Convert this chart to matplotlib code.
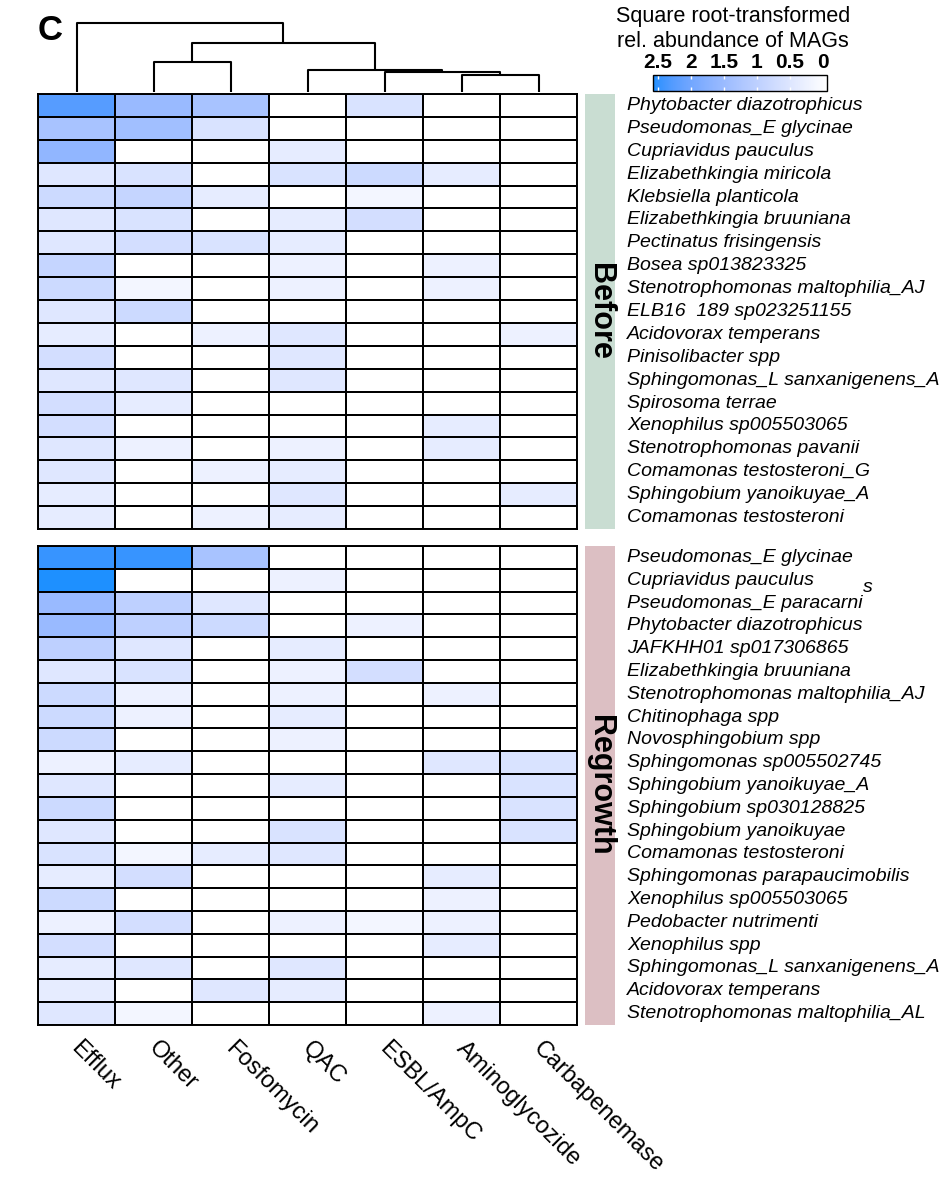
import numpy as np
import matplotlib
matplotlib.use("Agg")
import matplotlib.pyplot as plt
from matplotlib.colors import ListedColormap, Normalize
from matplotlib.cm import ScalarMappable

# ---- data (square root-transformed rel. abundance) ----
gene_classes = ["Efflux", "Other", "Fosfomycin", "QAC", "ESBL/AmpC",
                "Aminoglycozide", "Carbapenemase"]

before_taxa = [
    "Phytobacter diazotrophicus", "Pseudomonas_E glycinae", "Cupriavidus pauculus",
    "Elizabethkingia miricola", "Klebsiella planticola", "Elizabethkingia bruuniana",
    "Pectinatus frisingensis", "Bosea sp013823325", "Stenotrophomonas maltophilia_AJ",
    "ELB16  189 sp023251155", "Acidovorax temperans", "Pinisolibacter spp",
    "Sphingomonas_L sanxanigenens_A", "Spirosoma terrae", "Xenophilus sp005503065",
    "Stenotrophomonas pavanii", "Comamonas testosteroni_G", "Sphingobium yanoikuyae_A",
    "Comamonas testosteroni",
]
before_values = [
    [2.2, 1.5, 1.3, 0.0, 0.6, 0.0, 0.0],
    [1.3, 1.4, 0.6, 0.0, 0.0, 0.0, 0.0],
    [1.6, 0.0, 0.0, 0.4, 0.0, 0.0, 0.0],
    [0.5, 0.6, 0.0, 0.6, 0.8, 0.4, 0.0],
    [0.8, 0.9, 0.4, 0.0, 0.2, 0.0, 0.0],
    [0.5, 0.6, 0.0, 0.4, 0.7, 0.0, 0.0],
    [0.5, 0.7, 0.6, 0.4, 0.0, 0.0, 0.0],
    [0.9, 0.0, 0.0, 0.3, 0.0, 0.3, 0.0],
    [0.8, 0.2, 0.0, 0.3, 0.0, 0.3, 0.0],
    [0.5, 0.8, 0.0, 0.0, 0.0, 0.0, 0.0],
    [0.4, 0.0, 0.3, 0.5, 0.0, 0.0, 0.3],
    [0.7, 0.0, 0.0, 0.5, 0.0, 0.0, 0.0],
    [0.5, 0.5, 0.0, 0.5, 0.0, 0.0, 0.0],
    [0.7, 0.4, 0.0, 0.0, 0.0, 0.0, 0.0],
    [0.7, 0.0, 0.0, 0.0, 0.0, 0.4, 0.0],
    [0.5, 0.3, 0.0, 0.3, 0.0, 0.4, 0.0],
    [0.5, 0.0, 0.3, 0.4, 0.0, 0.0, 0.0],
    [0.4, 0.0, 0.0, 0.5, 0.0, 0.0, 0.4],
    [0.4, 0.0, 0.3, 0.4, 0.0, 0.0, 0.0],
]

regrowth_taxa = [
    "Pseudomonas_E glycinae", "Cupriavidus pauculus", "Pseudomonas_E paracarni",
    "Phytobacter diazotrophicus", "JAFKHH01 sp017306865", "Elizabethkingia bruuniana",
    "Stenotrophomonas maltophilia_AJ", "Chitinophaga spp", "Novosphingobium spp",
    "Sphingomonas sp005502745", "Sphingobium yanoikuyae_A", "Sphingobium sp030128825",
    "Sphingobium yanoikuyae", "Comamonas testosteroni", "Sphingomonas parapaucimobilis",
    "Xenophilus sp005503065", "Pedobacter nutrimenti", "Xenophilus spp",
    "Sphingomonas_L sanxanigenens_A", "Acidovorax temperans",
    "Stenotrophomonas maltophilia_AL",
]
regrowth_values = [
    [2.4, 2.4, 1.3, 0.0, 0.0, 0.0, 0.0],
    [2.6, 0.0, 0.0, 0.3, 0.0, 0.0, 0.0],
    [1.5, 1.0, 0.5, 0.0, 0.0, 0.0, 0.0],
    [1.5, 1.0, 0.8, 0.0, 0.3, 0.0, 0.0],
    [1.0, 0.5, 0.0, 0.4, 0.0, 0.0, 0.0],
    [0.5, 0.6, 0.0, 0.3, 0.7, 0.0, 0.0],
    [0.8, 0.3, 0.0, 0.3, 0.0, 0.3, 0.0],
    [0.8, 0.3, 0.0, 0.4, 0.0, 0.0, 0.0],
    [0.8, 0.0, 0.0, 0.3, 0.0, 0.0, 0.0],
    [0.3, 0.4, 0.0, 0.0, 0.0, 0.5, 0.6],
    [0.5, 0.0, 0.0, 0.4, 0.0, 0.0, 0.6],
    [0.8, 0.0, 0.0, 0.0, 0.0, 0.0, 0.6],
    [0.5, 0.0, 0.0, 0.6, 0.0, 0.0, 0.6],
    [0.6, 0.2, 0.4, 0.5, 0.0, 0.0, 0.0],
    [0.4, 0.7, 0.0, 0.0, 0.0, 0.4, 0.0],
    [0.8, 0.0, 0.0, 0.0, 0.0, 0.3, 0.0],
    [0.3, 0.7, 0.0, 0.3, 0.2, 0.3, 0.0],
    [0.7, 0.0, 0.0, 0.0, 0.0, 0.4, 0.0],
    [0.4, 0.5, 0.0, 0.5, 0.0, 0.0, 0.0],
    [0.4, 0.0, 0.5, 0.4, 0.0, 0.0, 0.0],
    [0.5, 0.2, 0.0, 0.0, 0.0, 0.3, 0.0],
]

# column dendrogram: (left, right, height); leaves are 0..6, merges are "m0".."m5"
column_merges = [(5, 6, 0.24), (4, "m0", 0.29), (3, "m1", 0.32),
                 (1, 2, 0.43), ("m3", "m2", 0.71), (0, "m4", 1.0)]

cbar_ticks = [2.5, 2, 1.5, 1, 0.5, 0]


# ---- colour ramp white -> dodgerblue, interpolated in LAB ----
WHITE_XYZ = np.array([0.95047, 1.0, 1.08883])
M_RGB2XYZ = np.array([[0.4124, 0.3576, 0.1805],
                      [0.2126, 0.7152, 0.0722],
                      [0.0193, 0.1192, 0.9505]])


def rgb_to_lab(rgb):
    c = np.asarray(rgb, float)
    lin = np.where(c <= 0.04045, c / 12.92, ((c + 0.055) / 1.055) ** 2.4)
    xyz = M_RGB2XYZ @ lin / WHITE_XYZ
    f = np.where(xyz > 0.008856, np.cbrt(xyz), 7.787 * xyz + 16 / 116)
    return np.array([116 * f[1] - 16, 500 * (f[0] - f[1]), 200 * (f[1] - f[2])])


def lab_to_rgb(lab):
    L, a, b = lab
    fy = (L + 16) / 116
    f = np.array([fy + a / 500, fy, fy - b / 200])
    xyz = np.where(f > 0.2069, f ** 3, (f - 16 / 116) / 7.787) * WHITE_XYZ
    lin = np.clip(np.linalg.solve(M_RGB2XYZ, xyz), 0, None)
    c = np.where(lin <= 0.0031308, 12.92 * lin, 1.055 * lin ** (1 / 2.4) - 0.055)
    return np.clip(c, 0, 1)


lab_lo = rgb_to_lab([1, 1, 1])
lab_hi = rgb_to_lab([30 / 255, 144 / 255, 1.0])
cmap = ListedColormap([lab_to_rgb(lab_lo + t * (lab_hi - lab_lo))
                       for t in np.linspace(0, 1, 256)])
norm = Normalize(vmin=0, vmax=2.5)

plt.rcParams['font.family'] = ['Liberation Sans', 'DejaVu Sans']

W, H = 939, 1200
fig = plt.figure(figsize=(W / 100, H / 100), dpi=100)


def px_axes(left, top, width, height):
    return fig.add_axes([left / W, 1 - (top + height) / H, width / W, height / H])


def draw_block(top, height, values, taxa, group, group_color):
    vals = np.array(values)
    ax = px_axes(38, top, 539, height)
    ax.pcolormesh(vals, cmap=cmap, norm=norm, edgecolors="black", linewidth=1.1)
    ax.set_xlim(0, vals.shape[1])
    ax.set_ylim(vals.shape[0], 0)
    ax.set_xticks([])
    ax.set_yticks([])
    for s in ax.spines.values():
        s.set_linewidth(1.4)
    for i, name in enumerate(taxa):
        ax.annotate(name, xy=(1, i + 0.5), xycoords=("axes fraction", "data"),
                    xytext=(50, 0), textcoords="offset pixels",
                    ha="left", va="center", fontsize=14, style="italic")
    side = px_axes(585, top, 30, height)
    side.set_facecolor(group_color)
    side.set_xticks([])
    side.set_yticks([])
    for s in side.spines.values():
        s.set_visible(False)
    side.text(0.5, 0.5, group, rotation=-90, ha="center", va="center",
              fontsize=22, fontweight="bold", transform=side.transAxes)
    return ax


draw_block(94, 435, before_values, before_taxa, "Before", "#c9ddd2")
ax_re = draw_block(546, 479, regrowth_values, regrowth_taxa, "Regrowth", "#dcbfc3")

# stray superscript "s" beside "paracarni" as in the source figure
fig.text(863 / W, 1 - 588 / H, "s", fontsize=14, style="italic", ha="left", va="center")

# column labels
for j, name in enumerate(gene_classes):
    ax_re.annotate(name, xy=(j + 0.5, len(regrowth_values)), xycoords="data",
                   xytext=(6, -12), textcoords="offset pixels",
                   rotation=-45, rotation_mode="anchor", ha="left", va="top",
                   fontsize=17)

# dendrogram over the columns
dax = px_axes(38, 22.5, 539, 69.5)
node_x = {i: i + 0.5 for i in range(len(gene_classes))}
node_h = {i: 0.0 for i in range(len(gene_classes))}
for k, (a, b, h) in enumerate(column_merges):
    xa, xb = node_x[a], node_x[b]
    dax.plot([xa, xa, xb, xb], [node_h[a], h, h, node_h[b]], color="black",
             lw=1.5, solid_capstyle="butt", clip_on=False)
    node_x["m%d" % k] = (xa + xb) / 2
    node_h["m%d" % k] = h
dax.set_xlim(0, len(gene_classes))
dax.set_ylim(0, 1.0)
dax.axis("off")

# colour key
fig.text(733 / W, 1 - 29 / H, "Square root-transformed\nrel. abundance of MAGs",
         ha="center", va="center", fontsize=15.5, linespacing=1.25)
cax = px_axes(653, 75, 174, 16)
cb = fig.colorbar(ScalarMappable(norm=Normalize(vmin=-0.06, vmax=2.57), cmap=cmap),
                  cax=cax, orientation="horizontal")
cax.invert_xaxis()
cb.set_ticks(cbar_ticks)
cb.set_ticklabels(["2.5", "2", "1.5", "1", "0.5", "0"])
cax.xaxis.set_ticks_position("both")
cax.xaxis.set_label_position("top")
cax.tick_params(axis="x", direction="in", length=3, width=1, color="white",
                labeltop=True, labelbottom=False, labelsize=15, pad=2)
for lbl in cax.get_xticklabels():
    lbl.set_fontweight("bold")
cb.outline.set_linewidth(1.0)

fig.text(50 / W, 1 - 30 / H, "C", fontsize=25, fontweight="bold", ha="center", va="center")

fig.savefig("out.png", dpi=100)
